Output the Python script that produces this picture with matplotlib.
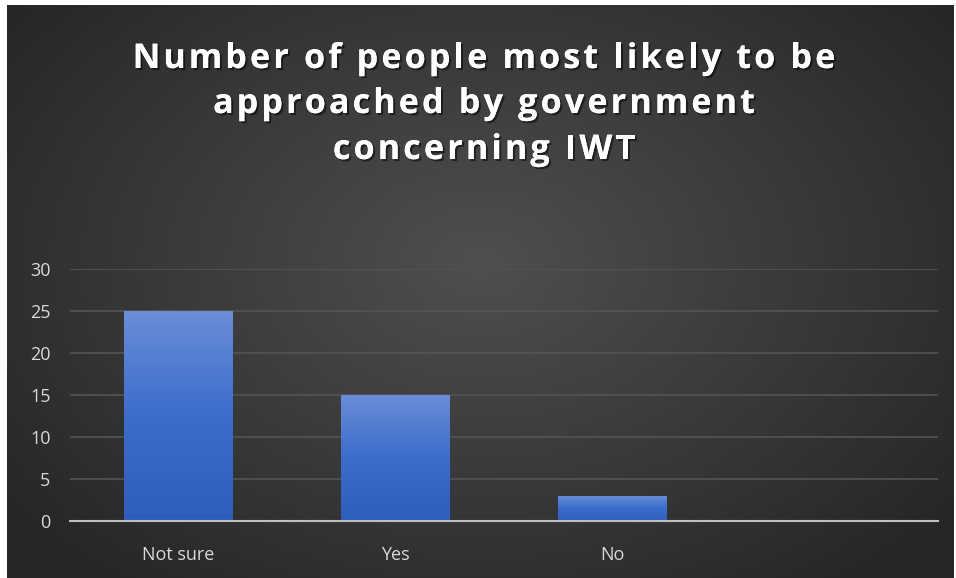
import numpy as np
import matplotlib
matplotlib.use("Agg")
import matplotlib.pyplot as plt
import matplotlib.patheffects as pe
from matplotlib.colors import LinearSegmentedColormap
from matplotlib.font_manager import FontProperties

# chart data
categories = ['Not sure', 'Yes', 'No', '']
counts = [25, 15, 3, 0]
y_ticks = [0, 5, 10, 15, 20, 25, 30]
title_lines = ['Number of people most likely to be',
               'approached by government',
               'concerning IWT']

W, H = 956, 578
fig = plt.figure(figsize=(W / 100, H / 100), dpi=100)
fig.patch.set_facecolor('white')

# dark panel with radial gradient
bg = fig.add_axes([7 / W, 0, (W - 9) / W, (H - 5) / H])
bg.set_axis_off()
yy, xx = np.mgrid[0:1:300j, 0:1:500j]
r = np.sqrt(((xx - 0.5) / 0.75) ** 2 + ((yy - 0.45) / 0.85) ** 2)
shade = np.clip(r, 0, 1)
bg_cmap = LinearSegmentedColormap.from_list('bg', ['#4f4f4f', '#262626'])
bg.imshow(shade, cmap=bg_cmap, aspect='auto', extent=[0, 1, 0, 1], vmin=0, vmax=0.85)

# plot area
x0, x1 = 70, 938
ytop, ybot = 269, 521
ax = fig.add_axes([x0 / W, (H - ybot) / H, (x1 - x0) / W, (ybot - ytop) / H])
ax.patch.set_alpha(0)

x = np.arange(len(categories))
bars = ax.bar(x, counts, width=0.5, color='#3f6fcf', zorder=3)
grad_cmap = LinearSegmentedColormap.from_list('bar', ['#2e5dbd', '#3c6ccc', '#6a8ed6'])
grad = np.linspace(0, 1, 256).reshape(-1, 1)
for b in bars:
    if b.get_height() <= 0:
        continue
    bx, bw, bh = b.get_x(), b.get_width(), b.get_height()
    im = ax.imshow(grad, cmap=grad_cmap, origin='lower', aspect='auto',
                   extent=[bx, bx + bw, 0, bh], zorder=4)
    im.set_clip_path(b)

ax.set_xlim(-0.5, len(categories) - 0.5)
ax.set_ylim(0, 30)
ax.set_yticks(y_ticks)
ax.set_xticks(x)
ax.set_xticklabels(categories)
ax.grid(axis='y', color='#545454', linewidth=1.2, zorder=0)
for s in ['top', 'right', 'left']:
    ax.spines[s].set_visible(False)
ax.spines['bottom'].set_color('#bfbfbf')
ax.spines['bottom'].set_linewidth(1.5)
ax.spines['bottom'].set_zorder(5)
ax.tick_params(axis='both', length=0, colors='#d9d9d9', labelsize=13)
ax.tick_params(axis='y', pad=14)
ax.tick_params(axis='x', pad=18)
for lbl in ax.get_xticklabels() + ax.get_yticklabels():
    lbl.set_family(['Open Sans', 'DejaVu Sans'])

# title with extra letter spacing
fp = FontProperties(family='Open Sans', weight='bold', size=24.5)
renderer = fig.canvas.get_renderer()
spacing = 3.2  # px between letters
shadow = [pe.withSimplePatchShadow(offset=(1.5, -1.5), shadow_rgbFace='black', alpha=0.5),
          pe.Normal()]
baselines = [68, 113, 159]
for line, ly in zip(title_lines, baselines):
    widths = [renderer.get_text_width_height_descent(c, fp, ismath=False)[0] for c in line]
    total = sum(widths) + spacing * (len(line) - 1)
    cx = 484 - total / 2
    for c, w in zip(line, widths):
        if c != ' ':
            fig.text(cx / W, 1 - ly / H, c, ha='left', va='baseline', color='white',
                     fontproperties=fp, path_effects=shadow)
        cx += w + spacing

fig.savefig('out.png', dpi=100, facecolor=fig.get_facecolor())
